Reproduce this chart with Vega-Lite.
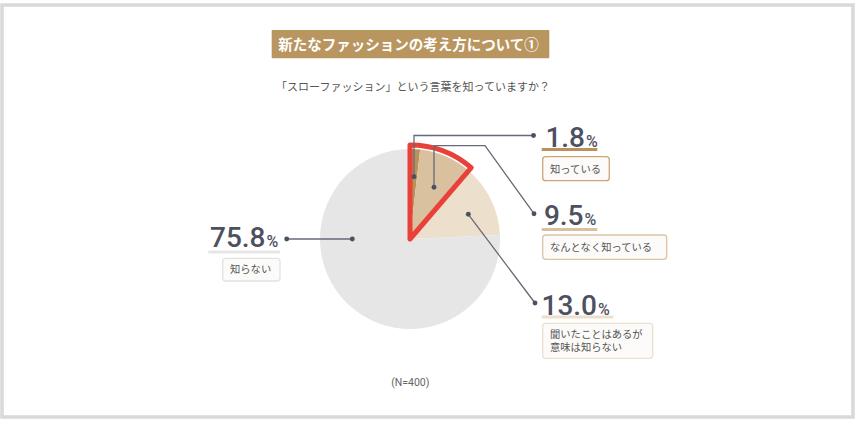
{
  "$schema": "https://vega.github.io/schema/vega-lite/v6.json",
  "width": 851,
  "height": 412,
  "autosize": {"type": "none"},
  "padding": {"left": 2, "top": 5, "right": 6, "bottom": 6},
  "background": "white",
  "config": {
    "view": {"stroke": "#d9d9d9", "strokeWidth": 3.5},
    "font": "Noto Sans CJK JP"
  },
  "datasets": {
    "slices": [
      {"cat": "知っている", "pct": 1.8, "order": 1, "hl": true},
      {"cat": "なんとなく知っている", "pct": 9.5, "order": 2, "hl": true},
      {"cat": "聞いたことはあるが意味は知らない", "pct": 13.0, "order": 3, "hl": false},
      {"cat": "知らない", "pct": 75.8, "order": 4, "hl": false}
    ],
    "labels": [
      {"cat": "知っている", "lab": "知っている", "ax": 175, "ny": 91.7, "ux1": 131.7, "ux2": 187.3, "uy": 89.5, "bx1": 132.7, "bx2": 199.3, "by1": 82.3, "by2": 58.3, "tx": 140, "ty": 69.5},
      {"cat": "なんとなく知っている", "lab": "なんとなく知っている", "ax": 173.5, "ny": 14, "ux1": 131.7, "ux2": 187.3, "uy": 9.5, "bx1": 132.7, "bx2": 256.7, "by1": 4, "by2": -20.3, "tx": 140, "ty": -9.3},
      {"cat": "聞いたことはあるが意味は知らない", "lab": "聞いたことはあるが\n意味は知らない", "ax": 187, "ny": -76, "ux1": 131.7, "ux2": 203.3, "uy": -78, "bx1": 132.7, "bx2": 242.7, "by1": -84.3, "by2": -119.3, "tx": 140, "ty": -95.5},
      {"cat": "知らない", "lab": "知らない", "ax": -144.5, "ny": -8.3, "ux1": -201.7, "ux2": -130, "uy": -13, "bx1": -187.3, "bx2": -130, "by1": -19.3, "by2": -42, "tx": -180, "ty": -31.3}
    ],
    "leaders": [
      {"id": "a", "seq": 1, "x": 4, "y": 62.3},
      {"id": "a", "seq": 2, "x": 4, "y": 103.5},
      {"id": "a", "seq": 3, "x": 123.5, "y": 103.5},
      {"id": "b", "seq": 1, "x": 24, "y": 51.7},
      {"id": "b", "seq": 2, "x": 24, "y": 93.3},
      {"id": "b", "seq": 3, "x": 75, "y": 93.3},
      {"id": "b", "seq": 4, "x": 124, "y": 25.3},
      {"id": "c", "seq": 1, "x": 58.3, "y": 24.7},
      {"id": "c", "seq": 2, "x": 125, "y": -64},
      {"id": "d", "seq": 1, "x": -57.7, "y": 0},
      {"id": "d", "seq": 2, "x": -123.3, "y": 0}
    ]
  },
  "layer": [
    {
      "data": {"name": "slices"},
      "mark": {"type": "arc", "outerRadius": 90, "innerRadius": 0},
      "encoding": {
        "x": {"datum": 0, "type": "quantitative", "scale": {"domain": [-408, 443], "nice": false, "zero": false}, "axis": null},
        "y": {"datum": 0, "type": "quantitative", "scale": {"domain": [-178, 234], "nice": false, "zero": false}, "axis": null},
        "theta": {"field": "pct", "type": "quantitative", "stack": true, "scale": {"domain": [0, 100.1]}},
        "order": {"field": "order", "type": "quantitative"},
        "color": {"field": "cat", "type": "nominal", "legend": null,
          "scale": {"domain": ["知っている", "なんとなく知っている", "聞いたことはあるが意味は知らない", "知らない"],
                    "range": ["#b8915b", "#d9c09f", "#ecdfcc", "#e6e6e6"]}}
      }
    },
    {
      "data": {"name": "slices"},
      "transform": [
        {"filter": "datum.hl"},
        {"aggregate": [{"op": "sum", "field": "pct", "as": "hs"}]}
      ],
      "mark": {"type": "arc", "outerRadius": 94, "innerRadius": 0, "fillOpacity": 0, "stroke": "#e8413a", "strokeWidth": 5, "strokeJoin": "round"},
      "encoding": {
        "x": {"datum": 0, "type": "quantitative", "scale": {"domain": [-408, 443], "nice": false, "zero": false}, "axis": null},
        "y": {"datum": 0, "type": "quantitative", "scale": {"domain": [-178, 234], "nice": false, "zero": false}, "axis": null},
        "theta": {"field": "hs", "type": "quantitative", "stack": true, "scale": {"domain": [0, 100.1]}}
      }
    },
    {
      "data": {"name": "leaders"},
      "mark": {"type": "line", "color": "#666a74", "strokeWidth": 1.3},
      "encoding": {
        "x": {"field": "x", "type": "quantitative", "scale": {"domain": [-408, 443], "nice": false, "zero": false}, "axis": null},
        "y": {"field": "y", "type": "quantitative", "scale": {"domain": [-178, 234], "nice": false, "zero": false}, "axis": null},
        "detail": {"field": "id", "type": "nominal"},
        "order": {"field": "seq", "type": "quantitative"}
      }
    },
    {
      "data": {"name": "leaders"},
      "transform": [
        {"joinaggregate": [{"op": "max", "field": "seq", "as": "ms"}], "groupby": ["id"]},
        {"filter": "datum.seq == 1 || datum.seq == datum.ms"}
      ],
      "mark": {"type": "circle", "size": 24, "color": "#4d5060", "opacity": 1},
      "encoding": {
        "x": {"field": "x", "type": "quantitative"},
        "y": {"field": "y", "type": "quantitative"}
      }
    },
    {
      "data": {"name": "labels"},
      "mark": {"type": "rect", "fill": "#fcfbf9", "strokeWidth": 1.3, "cornerRadius": 3},
      "encoding": {
        "x": {"field": "bx1", "type": "quantitative"},
        "x2": {"field": "bx2"},
        "y": {"field": "by1", "type": "quantitative"},
        "y2": {"field": "by2"},
        "stroke": {"field": "cat", "type": "nominal", "legend": null,
          "scale": {"domain": ["知っている", "なんとなく知っている", "聞いたことはあるが意味は知らない", "知らない"],
                    "range": ["#c9a674", "#dcc4a4", "#ece0cf", "#e2e2e2"]}}
      }
    },
    {
      "data": {"name": "labels"},
      "mark": {"type": "text", "align": "left", "baseline": "middle", "fontSize": 10.3, "color": "#555555", "lineBreak": "\n", "lineHeight": 13.5, "font": "Noto Sans CJK JP"},
      "encoding": {
        "x": {"field": "tx", "type": "quantitative"},
        "y": {"field": "ty", "type": "quantitative"},
        "text": {"field": "lab", "type": "nominal"}
      }
    },
    {
      "data": {"name": "labels"},
      "mark": {"type": "rule", "strokeWidth": 3},
      "encoding": {
        "x": {"field": "ux1", "type": "quantitative"},
        "x2": {"field": "ux2"},
        "y": {"field": "uy", "type": "quantitative"},
        "color": {"field": "cat", "type": "nominal", "legend": null}
      }
    },
    {
      "data": {"name": "labels"},
      "transform": [
        {"lookup": "cat", "from": {"data": {"name": "slices"}, "key": "cat", "fields": ["pct"]}}
      ],
      "mark": {"type": "text", "align": "right", "baseline": "alphabetic", "fontSize": 28, "font": "Roboto", "fontWeight": 500, "color": "#4d5060"},
      "encoding": {
        "x": {"field": "ax", "type": "quantitative"},
        "y": {"field": "ny", "type": "quantitative"},
        "text": {"field": "pct", "type": "quantitative", "format": ".1f"}
      }
    },
    {
      "data": {"name": "labels"},
      "mark": {"type": "text", "align": "left", "baseline": "alphabetic", "fontSize": 16, "font": "Roboto", "fontWeight": 500, "color": "#4d5060", "text": "%", "dx": 1},
      "encoding": {
        "x": {"field": "ax", "type": "quantitative"},
        "y": {"field": "ny", "type": "quantitative"}
      }
    },
    {
      "data": {"values": [{"t": "新たなファッションの考え方について①"}]},
      "mark": {"type": "rect", "fill": "#b9955f", "cornerRadius": 1},
      "encoding": {
        "x": {"datum": -138.3, "type": "quantitative"},
        "x2": {"datum": 139.3},
        "y": {"datum": 209, "type": "quantitative"},
        "y2": {"datum": 180.7}
      }
    },
    {
      "data": {"values": [{"t": "新たなファッションの考え方について①"}]},
      "mark": {"type": "text", "align": "center", "baseline": "middle", "fontSize": 14.5, "fontWeight": "bold", "color": "white", "font": "Noto Sans CJK JP"},
      "encoding": {
        "x": {"datum": -1.5, "type": "quantitative"},
        "y": {"datum": 192.8, "type": "quantitative"},
        "text": {"field": "t", "type": "nominal"}
      }
    },
    {
      "data": {"values": [{"t": "「スローファッション」という言葉を知っていますか？"}]},
      "mark": {"type": "text", "align": "center", "baseline": "middle", "fontSize": 11, "color": "#555555", "font": "Noto Sans CJK JP"},
      "encoding": {
        "x": {"datum": 3, "type": "quantitative"},
        "y": {"datum": 150.6, "type": "quantitative"},
        "text": {"field": "t", "type": "nominal"}
      }
    },
    {
      "data": {"values": [{"t": "(N=400)"}]},
      "mark": {"type": "text", "align": "center", "baseline": "middle", "fontSize": 10.5, "color": "#666666", "font": "Roboto"},
      "encoding": {
        "x": {"datum": 0.3, "type": "quantitative"},
        "y": {"datum": -143.5, "type": "quantitative"},
        "text": {"field": "t", "type": "nominal"}
      }
    }
  ]
}
